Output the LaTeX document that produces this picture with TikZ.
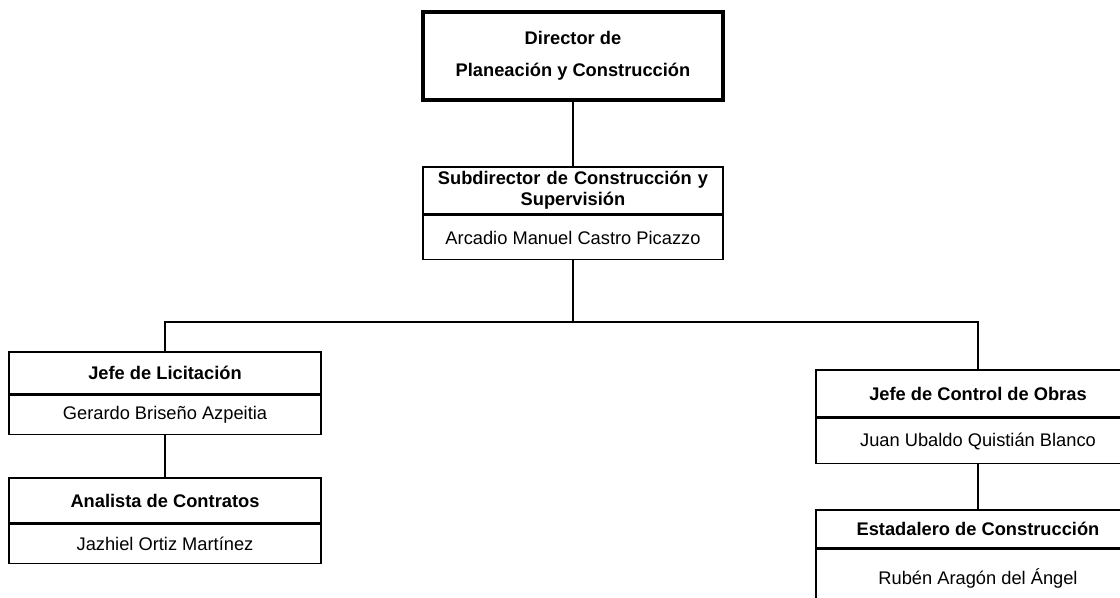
\documentclass[tikz,border=0pt]{standalone}
\usepackage{fontspec}
\setmainfont{Liberation Sans}
\usetikzlibrary{positioning}
\tikzset{
  orgbox/.style={
    rectangle, draw=black, line width=1.1pt, fill=white,
    align=center, inner sep=2pt, font=\fontsize{13}{15}\selectfont
  },
  orgtitle/.style={orgbox, font=\fontsize{13}{15}\selectfont\bfseries},
  orgname/.style={orgbox},
  orgtop/.style={orgtitle, line width=2.2pt},
  orgline/.style={draw=black, line width=1.1pt},
}
\begin{document}
\begin{tikzpicture}[x=0.025cm, y=-0.025cm, node distance=0pt]
  \clip (0,0) rectangle (1120,598);
  \fill[white] (0,0) rectangle (1120,598);

  % director
  \node (dir) [orgtop, minimum width=7.5cm, minimum height=2.2cm] at (573,56)
    {Director de\\[8pt]Planeación y Construcción};

  % subdirector
  \node (sub) [orgtitle, minimum width=7.5cm, minimum height=1.175cm, text width=7.2cm] at (573,190.5)
    {Subdirector de Construcción y\\Supervisión};
  \node (subname) [orgname, below=of sub.south, anchor=north, minimum width=7.5cm, minimum height=1.1cm]
    {Arcadio Manuel Castro Picazzo};

  % licitacion
  \node (lic) [orgtitle, minimum width=7.8cm, minimum height=1.05cm] at (165,373)
    {Jefe de Licitación};
  \node (licname) [orgname, below=of lic.south, anchor=north, minimum width=7.8cm, minimum height=0.975cm]
    {Gerardo Briseño Azpeitia};
  \node (ana) [orgtitle, minimum width=7.8cm, minimum height=1.125cm] at (165,500.5)
    {Analista de Contratos};
  \node (ananame) [orgname, below=of ana.south, anchor=north, minimum width=7.8cm, minimum height=0.975cm]
    {Jazhiel Ortiz Martínez};

  % control de obras
  \node (ctrl) [orgtitle, minimum width=8.1cm, minimum height=1.175cm] at (978,393.5)
    {Jefe de Control de Obras};
  \node (ctrlname) [orgname, below=of ctrl.south, anchor=north, minimum width=8.1cm, minimum height=1.125cm]
    {Juan Ubaldo Quistián Blanco};
  \node (est) [orgtitle, minimum width=8.1cm, minimum height=0.95cm] at (978,529)
    {Estadalero de Construcción};
  \node (estname) [orgname, below=of est.south, anchor=north, minimum width=8.1cm, minimum height=1.425cm]
    {Rubén Aragón del Ángel};

  % connectors
  \coordinate (bus) at (573,322);
  \draw[orgline] (dir) -- (sub);
  \draw[orgline] (subname) -- (bus);
  \draw[orgline] (lic.north) |- (bus) -| (ctrl.north);
  \draw[orgline] (licname) -- (ana);
  \draw[orgline] (ctrlname) -- (est);
\end{tikzpicture}
\end{document}
